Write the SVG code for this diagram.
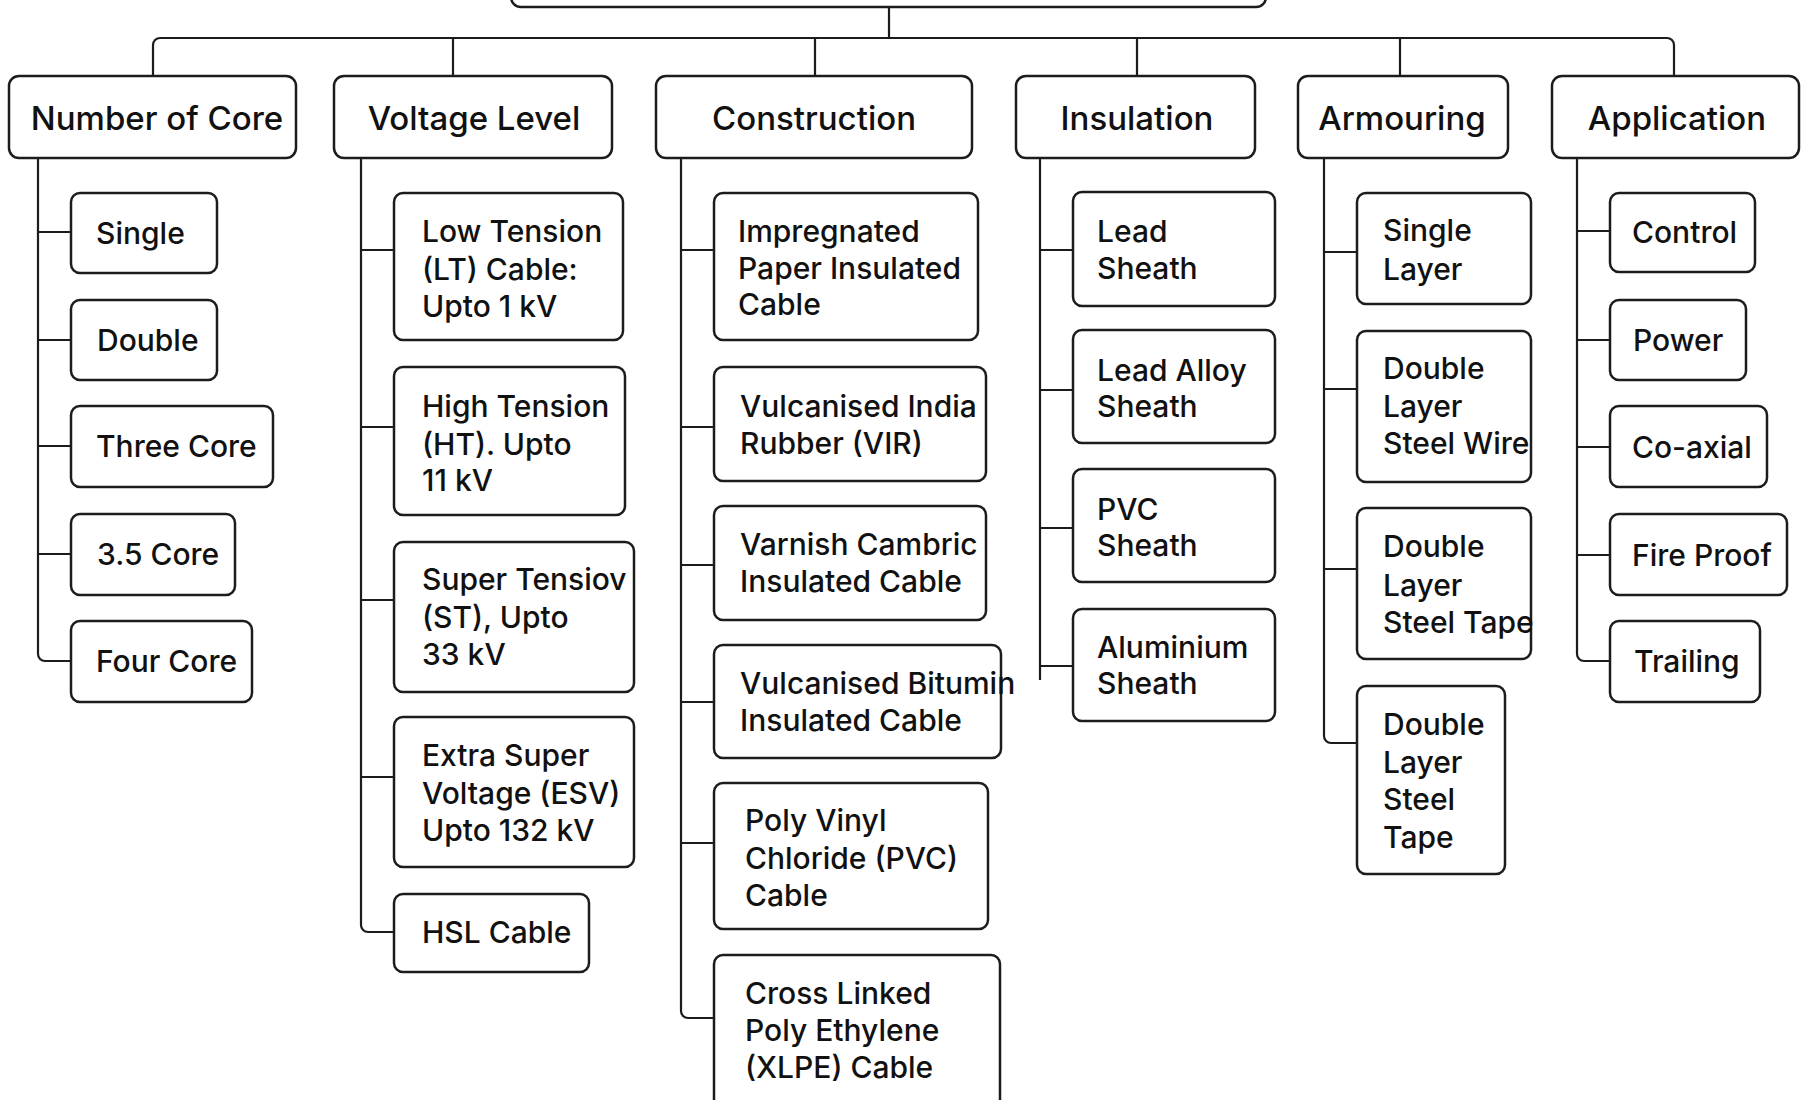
<svg xmlns="http://www.w3.org/2000/svg" width="1808" height="1100" viewBox="0 0 1808 1100">
<style>
.box{fill:#fff;stroke:#1c1c1c;stroke-width:2.5}
.hdr{font-family:Inter,"Liberation Sans",sans-serif;font-size:33px;font-weight:500;fill:#111;text-anchor:middle;dominant-baseline:central}
.t{font-family:Inter,"Liberation Sans",sans-serif;font-size:30px;font-weight:500;fill:#111;dominant-baseline:central}
.c{fill:none;stroke:#1c1c1c;stroke-width:2.2}
</style>
<rect width="1808" height="1100" fill="#fff"/>
<g id="connectors">
<path class="c" d="M889 7V38"/>
<path class="c" d="M153 76V45a7 7 0 0 1 7-7H1667a7 7 0 0 1 7 7V76"/>
<path class="c" d="M453 38V76M815 38V76M1137 38V76M1400 38V76"/>
<path class="c" d="M38 158V654a7 7 0 0 0 7 7H71M38 232H71M38 340H71M38 446H71M38 554H71"/>
<path class="c" d="M361 158V925a7 7 0 0 0 7 7H394M361 250H394M361 427H394M361 600H394M361 777H394"/>
<path class="c" d="M681 158V1011a7 7 0 0 0 7 7H714M681 250H714M681 427H714M681 565H714M681 702H714M681 843H714"/>
<path class="c" d="M1040 158V680M1040 250H1073M1040 390H1073M1040 528H1073M1040 666H1073"/>
<path class="c" d="M1324 158V736a7 7 0 0 0 7 7H1357M1324 252H1357M1324 389H1357M1324 569H1357"/>
<path class="c" d="M1577 158V654a7 7 0 0 0 7 7H1610M1577 231H1610M1577 340H1610M1577 447H1610M1577 555H1610"/>
</g>
<g id="root"><rect class="box" x="511" y="-40" width="755" height="47" rx="10"/></g>
<g id="n-core"><rect class="box" x="9" y="76" width="287" height="82" rx="10"/><text class="hdr" x="157" y="118">Number of Core</text></g>
<g id="n-voltage"><rect class="box" x="334" y="76" width="278" height="82" rx="10"/><text class="hdr" x="474" y="118">Voltage Level</text></g>
<g id="n-construction"><rect class="box" x="656" y="76" width="316" height="82" rx="10"/><text class="hdr" x="814" y="118">Construction</text></g>
<g id="n-insulation"><rect class="box" x="1016" y="76" width="239" height="82" rx="10"/><text class="hdr" x="1137" y="118">Insulation</text></g>
<g id="n-armouring"><rect class="box" x="1298" y="76" width="210" height="82" rx="10"/><text class="hdr" x="1402" y="118">Armouring</text></g>
<g id="n-application"><rect class="box" x="1552" y="76" width="247" height="82" rx="10"/><text class="hdr" x="1677" y="118">Application</text></g>

<g id="c-single"><rect class="box" x="71" y="193" width="146" height="80" rx="9"/><text class="t" x="96" y="233">Single</text></g>
<g id="c-double"><rect class="box" x="71" y="300" width="146" height="80" rx="9"/><text class="t" x="97" y="340">Double</text></g>
<g id="c-three"><rect class="box" x="71" y="406" width="202" height="81" rx="9"/><text class="t" x="96" y="446">Three Core</text></g>
<g id="c-35"><rect class="box" x="71" y="514" width="164" height="81" rx="9"/><text class="t" x="97" y="554">3.5 Core</text></g>
<g id="c-four"><rect class="box" x="71" y="621" width="181" height="81" rx="9"/><text class="t" x="96" y="661">Four Core</text></g>

<g id="v-lt"><rect class="box" x="394" y="193" width="229" height="147" rx="9"/><text class="t" x="422" y="231">Low Tension</text><text class="t" x="422" y="269">(LT) Cable:</text><text class="t" x="422" y="306">Upto 1 kV</text></g>
<g id="v-ht"><rect class="box" x="394" y="367" width="231" height="148" rx="9"/><text class="t" x="422" y="406">High Tension</text><text class="t" x="422" y="444">(HT). Upto</text><text class="t" x="422" y="480">11 kV</text></g>
<g id="v-st"><rect class="box" x="394" y="542" width="240" height="150" rx="9"/><text class="t" x="422" y="579">Super Tensiov</text><text class="t" x="422" y="617">(ST), Upto</text><text class="t" x="422" y="654">33 kV</text></g>
<g id="v-esv"><rect class="box" x="394" y="717" width="240" height="150" rx="9"/><text class="t" x="422" y="755">Extra Super</text><text class="t" x="422" y="793">Voltage (ESV)</text><text class="t" x="422" y="830">Upto 132 kV</text></g>
<g id="v-hsl"><rect class="box" x="394" y="894" width="195" height="78" rx="9"/><text class="t" x="422" y="932">HSL Cable</text></g>

<g id="k-paper"><rect class="box" x="714" y="193" width="264" height="147" rx="9"/><text class="t" x="738" y="231">Impregnated</text><text class="t" x="738" y="268">Paper Insulated</text><text class="t" x="738" y="304">Cable</text></g>
<g id="k-vir"><rect class="box" x="714" y="367" width="272" height="114" rx="9"/><text class="t" x="740" y="406">Vulcanised India</text><text class="t" x="740" y="443">Rubber (VIR)</text></g>
<g id="k-varnish"><rect class="box" x="714" y="506" width="272" height="114" rx="9"/><text class="t" x="740" y="544">Varnish Cambric</text><text class="t" x="740" y="581">Insulated Cable</text></g>
<g id="k-bitumin"><rect class="box" x="714" y="645" width="287" height="113" rx="9"/><text class="t" x="740" y="683">Vulcanised Bitumin</text><text class="t" x="740" y="720">Insulated Cable</text></g>
<g id="k-pvc"><rect class="box" x="714" y="783" width="274" height="146" rx="9"/><text class="t" x="745" y="820">Poly Vinyl</text><text class="t" x="745" y="858">Chloride (PVC)</text><text class="t" x="745" y="895">Cable</text></g>
<g id="k-xlpe"><rect class="box" x="714" y="955" width="286" height="160" rx="9"/><text class="t" x="745" y="993">Cross Linked</text><text class="t" x="745" y="1030">Poly Ethylene</text><text class="t" x="745" y="1067">(XLPE) Cable</text></g>

<g id="i-lead"><rect class="box" x="1073" y="192" width="202" height="114" rx="9"/><text class="t" x="1097" y="231">Lead</text><text class="t" x="1097" y="268">Sheath</text></g>
<g id="i-alloy"><rect class="box" x="1073" y="330" width="202" height="113" rx="9"/><text class="t" x="1097" y="370">Lead Alloy</text><text class="t" x="1097" y="406">Sheath</text></g>
<g id="i-pvc"><rect class="box" x="1073" y="469" width="202" height="113" rx="9"/><text class="t" x="1097" y="509">PVC</text><text class="t" x="1097" y="545">Sheath</text></g>
<g id="i-al"><rect class="box" x="1073" y="609" width="202" height="112" rx="9"/><text class="t" x="1097" y="647">Aluminium</text><text class="t" x="1097" y="683">Sheath</text></g>

<g id="a-single"><rect class="box" x="1357" y="193" width="174" height="111" rx="9"/><text class="t" x="1383" y="230">Single</text><text class="t" x="1383" y="269">Layer</text></g>
<g id="a-wire"><rect class="box" x="1357" y="331" width="174" height="151" rx="9"/><text class="t" x="1383" y="368">Double</text><text class="t" x="1383" y="406">Layer</text><text class="t" x="1383" y="443">Steel Wire</text></g>
<g id="a-tape"><rect class="box" x="1357" y="508" width="174" height="151" rx="9"/><text class="t" x="1383" y="546">Double</text><text class="t" x="1383" y="585">Layer</text><text class="t" x="1383" y="622">Steel Tape</text></g>
<g id="a-tape2"><rect class="box" x="1357" y="686" width="148" height="188" rx="9"/><text class="t" x="1383" y="724">Double</text><text class="t" x="1383" y="762">Layer</text><text class="t" x="1383" y="799">Steel</text><text class="t" x="1383" y="837">Tape</text></g>

<g id="p-control"><rect class="box" x="1610" y="193" width="145" height="79" rx="9"/><text class="t" x="1632" y="232">Control</text></g>
<g id="p-power"><rect class="box" x="1610" y="300" width="136" height="80" rx="9"/><text class="t" x="1633" y="340">Power</text></g>
<g id="p-coax"><rect class="box" x="1610" y="406" width="157" height="81" rx="9"/><text class="t" x="1632" y="447">Co-axial</text></g>
<g id="p-fire"><rect class="box" x="1610" y="514" width="177" height="81" rx="9"/><text class="t" x="1632" y="555">Fire Proof</text></g>
<g id="p-trailing"><rect class="box" x="1610" y="621" width="150" height="81" rx="9"/><text class="t" x="1634" y="661">Trailing</text></g>
</svg>
